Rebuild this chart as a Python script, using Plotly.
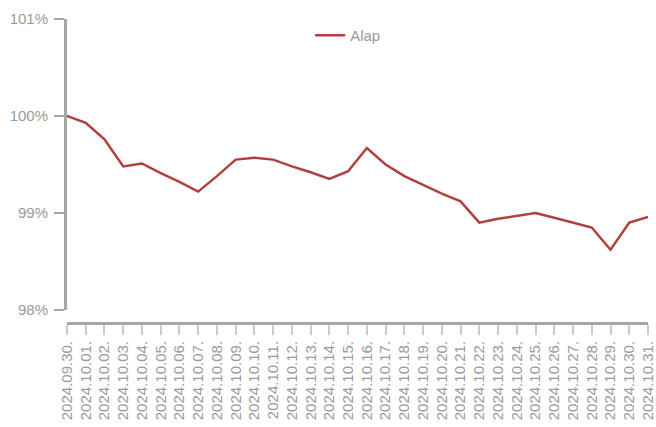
import plotly.graph_objects as go

dates = ["2024.09.30.", "2024.10.01.", "2024.10.02.", "2024.10.03.", "2024.10.04.",
         "2024.10.05.", "2024.10.06.", "2024.10.07.", "2024.10.08.", "2024.10.09.",
         "2024.10.10.", "2024.10.11.", "2024.10.12.", "2024.10.13.", "2024.10.14.",
         "2024.10.15.", "2024.10.16.", "2024.10.17.", "2024.10.18.", "2024.10.19.",
         "2024.10.20.", "2024.10.21.", "2024.10.22.", "2024.10.23.", "2024.10.24.",
         "2024.10.25.", "2024.10.26.", "2024.10.27.", "2024.10.28.", "2024.10.29.",
         "2024.10.30.", "2024.10.31."]
alap = [100.00, 99.93, 99.76, 99.48, 99.51, 99.41, 99.32, 99.22, 99.38, 99.55,
        99.57, 99.55, 99.48, 99.42, 99.35, 99.43, 99.67, 99.50, 99.38, 99.29,
        99.20, 99.12, 98.90, 98.94, 98.97, 99.00, 98.95, 98.90, 98.85, 98.62,
        98.90, 98.96]
y_ticks = [98, 99, 100, 101]
y_tick_labels = ["98%", "99%", "100%", "101%"]

GRAY = "#a6a6a6"
TEXT = "#9a9a9a"

fig = go.Figure()
fig.add_trace(go.Scatter(x=dates, y=alap, mode="lines", name="Alap",
                         line=dict(color="#b0403d", width=2.5), cliponaxis=False))

fig.update_layout(
    width=656, height=427,
    margin=dict(l=67, r=8, t=19, b=104, autoexpand=False),
    paper_bgcolor="white", plot_bgcolor="white",
    font=dict(family="Liberation Sans, Arial, sans-serif", size=15, color=TEXT),
    showlegend=True,
    legend=dict(orientation="h", x=0.4185, xanchor="left", y=1.0, yanchor="top",
                font=dict(size=15, color=TEXT), bgcolor="rgba(0,0,0,0)"),
    xaxis=dict(type="category", range=[0, 31], anchor="free", position=0,
               automargin=False,
               showline=True, linecolor=GRAY, linewidth=3,
               ticks="outside", ticklen=10, tickwidth=2, tickcolor="#cccccc",
               tickangle=-90, showgrid=False, zeroline=False,
               tickfont=dict(size=15, color=TEXT)),
    yaxis=dict(range=[98, 101], domain=[0.043, 1], automargin=False,
               tickvals=y_ticks, ticktext=y_tick_labels,
               showline=True, linecolor=GRAY, linewidth=3,
               ticks="outside", ticklen=10, tickwidth=2, tickcolor=GRAY,
               ticklabelstandoff=3,
               showgrid=False, zeroline=False,
               tickfont=dict(size=15, color=TEXT)),
)

fig.write_html("out.html",
               config={"displayModeBar": False},
               post_script="document.body.style.margin='0';document.body.style.overflow='hidden';")
